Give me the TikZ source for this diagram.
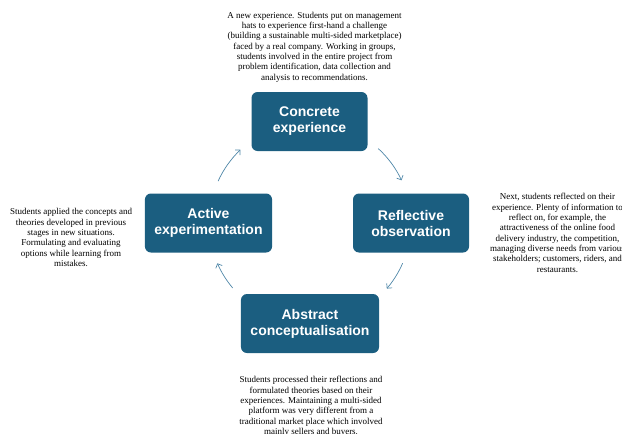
\documentclass[tikz,border=0pt]{standalone}
\usepackage{fontspec}
\setmainfont{Liberation Serif}
\setsansfont{Liberation Sans}
\usetikzlibrary{arrows.meta,positioning}
\definecolor{stageblue}{HTML}{1B5E80}
\definecolor{flowblue}{HTML}{4F87A8}
\tikzset{
  stage/.style={fill=stageblue, rounded corners=6pt, text=white,
    font=\sffamily\bfseries\fontsize{14}{16}\selectfont, align=center,
    minimum width=116pt, minimum height=59pt, inner xsep=9.5pt},
  note/.style={font=\fontsize{9}{10.35}\selectfont, align=center, inner sep=0pt},
  flow/.style={draw=flowblue, line width=0.7pt, -{Straight Barb[length=3.5pt,width=7pt]}}
}

\begin{document}
\begin{tikzpicture}
  \useasboundingbox (0,0) rectangle (622pt,-434pt);
  % 中心
  \coordinate (O) at (310pt,-223pt);

  % ボックス
  \node[stage] (CE) at ([xshift=-0.5pt,yshift=101.5pt]O) {Concrete\\experience};
  \node[stage] (RO) at ([xshift=101pt]O) {Reflective\\observation};
  \node[stage] (AC) at ([yshift=-100.5pt]O) {Abstract\\conceptualisation};
  \node[stage] (AE) at ([xshift=-101.5pt]O) {Active\\experimentation};

  % 説明文
  \node[note] (CEtext) at (314.5pt,-47pt) {A new experience. Students put on management\\
    hats to experience first-hand a challenge\\
    (building a sustainable multi-sided marketplace)\\
    faced by a real company. Working in groups,\\
    students involved in the entire project from\\
    problem identification, data collection and\\
    analysis to recommendations.};
  \node[note] (ROtext) at (557.5pt,-233pt) {Next, students reflected on their\\
    experience. Plenty of information to\\
    reflect on, for example, the\\
    attractiveness of the online food\\
    delivery industry, the competition,\\
    managing diverse needs from various\\
    stakeholders; customers, riders, and\\
    restaurants.};
  \node[note] (ACtext) at (311pt,-406.5pt) {Students processed their reflections and\\
    formulated theories based on their\\
    experiences. Maintaining a multi-sided\\
    platform was very different from a\\
    traditional market place which involved\\
    mainly sellers and buyers.};
  \node[note] (AEtext) at (71pt,-237.5pt) {Students applied the concepts and\\
    theories developed in previous\\
    stages in new situations.\\
    Formulating and evaluating\\
    options while learning from\\
    mistakes.};

  % 矢印
  \foreach \a/\b in {47.5/25, -23.5/-40.5, 220/203.5, 155.5/133.5}
    \draw[flow] ([shift={(\a:101pt)}]O) arc[start angle=\a, end angle=\b, radius=101pt];
\end{tikzpicture}
\end{document}
